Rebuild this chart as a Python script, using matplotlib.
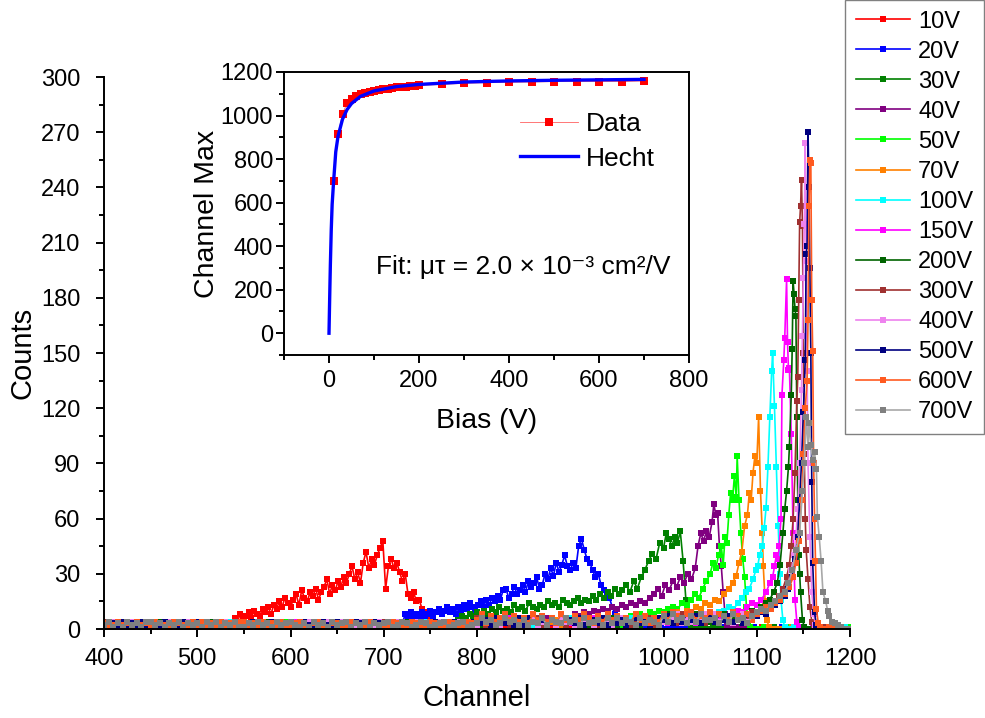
import matplotlib
matplotlib.use('Agg')
import matplotlib.pyplot as plt
from matplotlib.ticker import MultipleLocator

plt.rcParams['font.family'] = ['Liberation Sans', 'DejaVu Sans']

# ---------------- data: spectra (channel, counts) ----------------
bias_labels = ['10V', '20V', '30V', '40V', '50V', '70V', '100V', '150V',
               '200V', '300V', '400V', '500V', '600V', '700V']

pk_10V = [(540,6),(543,4),(546,8),(549,5),(552,7),(555,9),(558,6),(561,10),(564,8),(567,7),(570,11),(573,9),
          (576,12),(579,8),(582,13),(585,11),(588,15),(591,12),(594,17),(597,14),(600,12),(603,16),(606,19),
          (609,13),(612,21),(615,17),(618,15),(621,20),(624,18),(627,22),(630,16),(633,20),(636,23),(639,27),
          (642,19),(645,24),(648,21),(651,26),(654,23),(657,28),(660,25),(663,30),(666,34),(669,27),(672,31),
          (675,25),(678,36),(681,42),(684,33),(687,38),(690,35),(693,40),(696,44),(699,48),(702,22),(705,34),
          (708,38),(711,33),(714,36),(717,31),(720,26),(723,30),(726,19),(729,17),(732,20),(735,15),(738,16),
          (741,11),(744,9),(747,6),(750,3),(753,2),(756,1)]
pk_20V = [(723,8),(726,6),(729,9),(732,7),(735,8),(738,6),(741,9),(744,7),(747,8),(750,10),(753,7),(756,9),
          (759,11),(762,8),(765,10),(768,12),(771,9),(774,11),(777,8),(780,12),(783,10),(786,13),(789,11),
          (792,14),(795,12),(798,10),(801,13),(804,15),(807,12),(810,16),(813,13),(816,17),(819,15),(822,18),
          (825,16),(828,21),(831,22),(834,17),(837,19),(840,23),(843,19),(846,21),(849,24),(852,20),(855,26),
          (858,23),(861,25),(864,28),(867,22),(870,24),(873,30),(876,27),(879,33),(882,29),(885,36),(888,31),
          (891,35),(894,40),(897,34),(900,32),(903,36),(906,33),(909,45),(912,49),(915,43),(918,38),(921,36),
          (924,32),(927,28),(930,30),(933,24),(936,21),(939,18),(942,17),(945,12),(948,8),(951,5),(954,3),(957,2)]
pk_30V = [(780,5),(784,7),(788,6),(792,8),(796,7),(800,9),(804,8),(808,10),(812,8),(816,11),(820,9),(824,12),
          (828,10),(832,11),(836,9),(840,13),(844,11),(848,12),(852,10),(856,14),(860,12),(864,11),(868,13),
          (872,12),(876,15),(880,13),(884,14),(888,12),(892,16),(896,14),(900,13),(904,15),(908,17),(912,14),
          (916,16),(920,15),(924,18),(928,16),(932,19),(936,17),(940,20),(944,18),(948,22),(952,19),(956,21),
          (960,24),(964,20),(968,26),(972,22),(976,28),(980,32),(984,37),(988,41),(992,38),(996,47),(1000,44),
          (1003,52),(1006,49),(1009,45),(1012,50),(1015,47),(1018,53),(1021,37),(1024,16),(1027,6),(1030,2),(1033,1)]
pk_40V = [(900,6),(905,8),(910,7),(915,9),(920,8),(925,10),(930,9),(935,11),(940,10),(945,12),(950,11),(955,13),
          (960,12),(965,14),(970,13),(975,15),(980,14),(985,17),(990,19),(994,22),(998,18),(1002,24),(1006,21),
          (1010,26),(1014,23),(1018,28),(1022,25),(1026,30),(1030,27),(1034,33),(1037,45),(1040,52),(1043,48),
          (1046,53),(1049,50),(1052,58),(1054,68),(1056,62),(1058,63),(1060,45),(1062,34),(1064,20),(1066,8),(1068,2)]
pk_50V = [(960,5),(965,7),(970,6),(975,8),(980,7),(985,9),(990,8),(995,10),(1000,9),(1005,11),(1010,12),(1015,11),
          (1020,14),(1025,13),(1030,16),(1034,19),(1038,17),(1042,22),(1046,26),(1050,30),(1053,36),(1056,33),
          (1059,40),(1062,45),(1064,35),(1066,50),(1068,47),(1070,62),(1072,74),(1074,70),(1076,83),(1078,72),
          (1079,94),(1081,70),(1083,52),(1085,38),(1087,28),(1089,12),(1091,4),(1093,1)]
pk_70V = [(1000,5),(1005,7),(1010,6),(1015,9),(1020,8),(1025,10),(1030,9),(1035,12),(1040,11),(1045,14),(1050,13),
          (1055,16),(1060,15),(1065,19),(1070,22),(1074,25),(1078,29),(1081,36),(1084,42),(1087,56),(1090,62),
          (1092,74),(1094,70),(1096,85),(1098,94),(1100,90),(1102,115),(1104,75),(1106,52),(1107,34),(1109,15),
          (1111,5),(1113,1)]
pk_100V = [(1040,5),(1045,6),(1050,8),(1055,7),(1060,9),(1065,10),(1070,12),(1075,11),(1080,14),(1084,17),
           (1088,20),(1092,22),(1096,27),(1099,32),(1101,34),(1103,40),(1106,45),(1108,55),(1110,66),(1112,88),
           (1114,115),(1116,140),(1117,150),(1119,121),(1121,88),(1123,56),(1125,30),(1126,16),(1128,5),(1130,1)]
pk_150V = [(1060,5),(1065,7),(1070,6),(1075,8),(1080,10),(1085,9),(1090,12),(1095,14),(1100,13),(1105,16),
           (1110,20),(1114,25),(1117,28),(1119,34),(1121,40),(1123,38),(1124,45),(1126,60),(1127,127),(1129,146),
           (1130,158),(1132,190),(1133,156),(1134,141),(1135,142),(1137,106),(1139,52),(1141,16),(1143,4),(1145,1)]
pk_200V = [(1080,6),(1085,8),(1090,7),(1095,10),(1100,9),(1105,12),(1110,14),(1114,16),(1118,20),(1122,25),
           (1125,35),(1128,52),(1130,65),(1132,75),(1134,88),(1135,99),(1137,127),(1138,152),(1139,189),
           (1140,182),(1141,174),(1142,170),(1143,115),(1144,70),(1145,40),(1146,30),(1147,20),(1149,5),(1151,1)]
pk_300V = [(1090,7),(1095,9),(1100,8),(1105,11),(1110,10),(1115,13),(1120,15),(1124,18),(1128,22),(1132,28),
           (1135,35),(1137,45),(1139,60),(1141,85),(1143,124),(1144,137),(1145,179),(1146,221),(1147,230),
           (1148,244),(1149,219),(1150,150),(1151,95),(1152,60),(1153,43),(1155,27),(1157,12),(1159,4),(1161,1)]
pk_400V = [(1100,8),(1105,10),(1110,9),(1115,12),(1120,14),(1125,16),(1130,20),(1134,25),(1137,32),(1140,40),
           (1142,50),(1144,65),(1146,90),(1148,130),(1149,159),(1150,191),(1151,220),(1152,264),(1153,200),
           (1154,140),(1155,90),(1157,50),(1159,20),(1161,8),(1163,2)]
pk_500V = [(1100,7),(1105,9),(1110,8),(1115,11),(1120,13),(1125,15),(1130,18),(1134,22),(1138,28),(1141,38),
           (1144,50),(1146,70),(1148,90),(1150,118),(1152,146),(1153,204),(1154,208),(1155,270),(1156,240),
           (1157,196),(1158,150),(1159,80),(1160,36),(1162,9),(1164,2)]
pk_600V = [(1100,8),(1105,10),(1110,12),(1115,11),(1120,14),(1125,16),(1130,19),(1135,23),(1139,28),(1142,36),
           (1145,48),(1148,70),(1150,95),(1152,120),(1154,135),(1155,168),(1156,230),(1157,255),(1158,253),
           (1159,179),(1160,151),(1161,90),(1162,60),(1163,37),(1164,11),(1166,3),(1168,1)]
pk_700V = [(1100,9),(1105,11),(1110,10),(1115,13),(1120,15),(1125,18),(1130,20),(1134,25),(1138,32),(1142,43),
           (1146,52),(1149,75),(1151,90),(1153,115),(1155,99),(1156,112),(1158,100),(1160,92),(1162,96),
           (1164,87),(1165,61),(1167,50),(1169,37),(1171,20),(1174,15),(1176,10),(1178,7),(1181,4),(1184,3),
           (1187,2),(1190,1),(1193,0)]

# low-level background counts before each peak (one digit per 5 channels from 400)
base_10V = ("32413243124231423413241324312423142314231423413241324312423142314231423142314231"
            "3452634253462534625326345263453526435264" "53764857463857463857")
base_20V = ("23142132431423142312413231423142132413241324132431423142314231423142314231413241324"
            "4352635243526342536435246352436254" "46857364857465837456")
base_30V = ("13242314132431423142312413241323142313243142413231423132413224132314231324132413"
            "3425364352463524352643526342535243625364" "64758364755837465847")
base_40V = ("42132413243142314213243132413241324132412314231423132413243142132413242314132413"
            "5243625342635426352436254352634253624352" "57483657486375846358")
base_50V = ("24314231423142413241324132413242131423142341324132413241324131423142314231423142"
            "3624536245435263452653426352436245362534" "74658374654857364857")
base_70V = ("31423142312413241324142314231423142314234132413241324132413214231423142314231423"
            "4526345263345263452652634526342634526345" "58473658476374856374")
base_100V = ("21431241323412431243132421342143123412312413142314312423134214321431242341324213"
             "4536245362352643526462435264352536425364" "64857364855748637485")
base_150V = ("34123412432134213412423134213412431243123421342143231421342141324132413214321432"
             "5364253642425364536236452635246352436425" "73648573648475638475")
base_200V = ("14232413243142132413231432413242131423123241231423134241324124131423134231324124"
             "3264536245534263524346352435262453624536" "58473658474638574638")
base_300V = ("43214321431234123412341234123421432143213241324132142314231443124312432134213421"
             "6425364253354623546252364523644362543625" "65738465737485637485")
base_400V = ("23412341234123412341134213421332143214324132413241241324132431243124311243124312"
             "2546325463635243625442536243525634256342" "47583647586847536847")
base_500V = ("14324132412314231423412341234132413241322134213421431243124312431243123421342134"
             "4352643526264352643553624536243524635246" "57364857366485746385")
base_600V = ("31242314231432143214241324132442314231421342134213321432143221432143214312431243"
             "5837468574638574638547586374857364857364" "85976895769687597685")
base_700V = ("24131423144231324132314241324113242314234213142314234132413234124312431234123412"
             "3645236452524362543645263452636354263542" "74856374855637485637")

# near-zero counts after each peak (one digit per 5 channels)
tail_10V = "010000100001000000100000010000100000001000010000000100001000000100000100000010000000100000"
tail_20V = "001000010000001000001000000100000100000010000010000001000000100000100000010000001000000100"
tail_30V = "000100000100000010000010000001000001000000100000100000010000010000001000000100000100000010"
tail_40V = "010000001000001000000100000100000010000010000001000000100000100000010000001000001000000100"
tail_50V = "001000010000010000001000001000000100000100000010000010000001000001000000100000100000010000"
tail_70V = "000010000100000100000010000010000001000001000000100000100000010000010000001000001000000100"
tail_100V = "010000100000100000010000010000001000001000000100000100000010000010000001000001000000100000"
tail_150V = "001000001000001000000100000100000010000010000001000001000000100000100000010000010000001000"
tail_200V = "000100000100000100000010000010000001000001000000100000100000010000010000001000001000000100"
tail_300V = "010000010000010000001000001000000100000100000010000010000001000001000000100000100000010000"
tail_400V = "001000001000001000000100000100000010000010000001000001000000100000100000010000010000001000"
tail_500V = "000100000100000100000010000010000001000001000000100000100000010000010000001000001000000100"
tail_600V = "010000010000010000001000001000000100000100000010000010000001000001000000100000100000010000"
tail_700V = "001000001000001000000100000100000010000010000001000001000000100000100000010000010000001000"

# ---------------- data: inset ----------------
bias_data = [10, 20, 30, 40, 50, 60, 70, 80, 90, 100, 110, 120, 130, 140, 150, 160, 170, 180, 190, 200,
             250, 300, 350, 400, 450, 500, 550, 600, 650, 700]
chmax_data = [698, 913, 1008, 1056, 1075, 1090, 1098, 1105, 1110, 1114, 1118, 1121, 1124, 1127, 1129,
              1131, 1133, 1135, 1136, 1138, 1143, 1148, 1151, 1153, 1154, 1156, 1156, 1156, 1156, 1159]
bias_fit = [0, 0.5, 1, 2, 3, 5, 7, 10, 15, 20, 30, 40, 50, 70, 100, 150, 200, 300, 400, 500, 600, 700]
chmax_fit = [0, 53, 107, 213, 312, 475, 592, 690, 833, 904, 983, 1027, 1055, 1088, 1113, 1133, 1143,
             1154, 1159, 1162, 1164, 1166]

# ---------------- styles ----------------
line_colors = ['#FF0000', '#0000FF', '#008000', '#800080', '#00FF00', '#FF8000', '#00FFFF', '#FF00FF',
               '#006400', '#A03030', '#EE82EE', '#000080', '#FF5A20', '#A8A8A8']
marker_colors = ['#FF0000', '#0000FF', '#008000', '#800080', '#00FF00', '#FF8000', '#00FFFF', '#FF00FF',
                 '#006400', '#A03030', '#EE82EE', '#000080', '#FF5A20', '#808080']

peaks = [pk_10V, pk_20V, pk_30V, pk_40V, pk_50V, pk_70V, pk_100V, pk_150V, pk_200V, pk_300V,
         pk_400V, pk_500V, pk_600V, pk_700V]
bases = [base_10V, base_20V, base_30V, base_40V, base_50V, base_70V, base_100V, base_150V, base_200V,
         base_300V, base_400V, base_500V, base_600V, base_700V]
tails = [tail_10V, tail_20V, tail_30V, tail_40V, tail_50V, tail_70V, tail_100V, tail_150V, tail_200V,
         tail_300V, tail_400V, tail_500V, tail_600V, tail_700V]

fig = plt.figure(figsize=(9.85, 7.18), dpi=100)
ax = fig.add_axes([104 / 985, 89 / 718, 746 / 985, 552 / 718])

for lab, lc, mc, pk, base, tail in zip(bias_labels, line_colors, marker_colors, peaks, bases, tails):
    pch = [c for c, _ in pk]
    pct = [v for _, v in pk]
    bch = [400 + 5 * i for i in range(len(base)) if 400 + 5 * i < pch[0]]
    bct = [int(d) for d in base[:len(bch)]]
    tch = [pch[-1] + 5 * (i + 1) for i in range(len(tail)) if pch[-1] + 5 * (i + 1) <= 1200]
    tct = [int(d) for d in tail[:len(tch)]]
    ax.plot(bch + pch + tch, bct + pct + tct, '-', color=lc, lw=1.2, marker='s', ms=4.2,
            mfc=mc, mec=mc, mew=0, label=lab)

ax.set_xlim(400, 1200)
ax.set_ylim(0, 300)
ax.xaxis.set_major_locator(MultipleLocator(100))
ax.xaxis.set_minor_locator(MultipleLocator(50))
ax.yaxis.set_major_locator(MultipleLocator(30))
ax.yaxis.set_minor_locator(MultipleLocator(15))
ax.spines['top'].set_visible(False)
ax.spines['right'].set_visible(False)
for s in ('left', 'bottom'):
    ax.spines[s].set_linewidth(1.4)
ax.tick_params(which='major', direction='out', length=6, width=1.4, labelsize=17)
ax.tick_params(axis='x', which='major', pad=8)
ax.tick_params(axis='y', which='major', pad=11)
ax.tick_params(which='minor', direction='out', length=3.5, width=1.4)
ax.set_xlabel('Channel', fontsize=21, labelpad=10)
ax.set_ylabel('Counts', fontsize=21, labelpad=3)

leg = ax.legend(loc='upper left', bbox_to_anchor=(845 / 985, 1.0), bbox_transform=fig.transFigure,
                borderaxespad=0, frameon=True, fancybox=False, edgecolor='#808080', framealpha=1,
                fontsize=17, handlelength=2.3, handletextpad=0.35, labelspacing=0.34, borderpad=0.45,
                markerscale=0.9)
leg.get_frame().set_linewidth(1.0)

# ---------------- inset ----------------
axin = fig.add_axes([284 / 985, (718 - 355) / 718, 405 / 985, 283 / 718])
axin.plot(bias_data, chmax_data, '-', color='#FF6060', lw=0.6, marker='s', ms=6, mfc='#FF0000',
          mec='#FF0000', mew=0, label='Data', zorder=2)
axin.plot(bias_fit, chmax_fit, '-', color='#0000FF', lw=2.4, label='Hecht', zorder=3)
axin.set_xlim(-100, 800)
axin.set_ylim(-100, 1200)
axin.xaxis.set_minor_locator(MultipleLocator(100))
axin.yaxis.set_minor_locator(MultipleLocator(100))
axin.set_xticks([0, 200, 400, 600, 800])
axin.set_yticks([0, 200, 400, 600, 800, 1000, 1200])
for s in axin.spines.values():
    s.set_linewidth(1.4)
axin.tick_params(which='major', direction='out', length=6, width=1.4, labelsize=17, pad=5)
axin.tick_params(axis='y', which='major', pad=2)
axin.tick_params(which='minor', direction='out', length=3.5, width=1.4)
axin.set_xlabel('Bias (V)', fontsize=20.5, labelpad=11)
axin.set_ylabel('Channel Max', fontsize=20.5, labelpad=0)
leg2 = axin.legend(loc='upper left', bbox_to_anchor=(520 / 985, 1 - 112 / 718),
                   bbox_transform=fig.transFigure, borderaxespad=0, borderpad=0, frameon=False,
                   fontsize=19, handlelength=2.2, handletextpad=0.3, labelspacing=0.4)

fig.text(376 / 985, 1 - 274 / 718, 'Fit: μτ = 2.0 × 10⁻³ cm²/V', fontsize=19,
         ha='left', va='baseline')

fig.savefig('out.png', dpi=100)
